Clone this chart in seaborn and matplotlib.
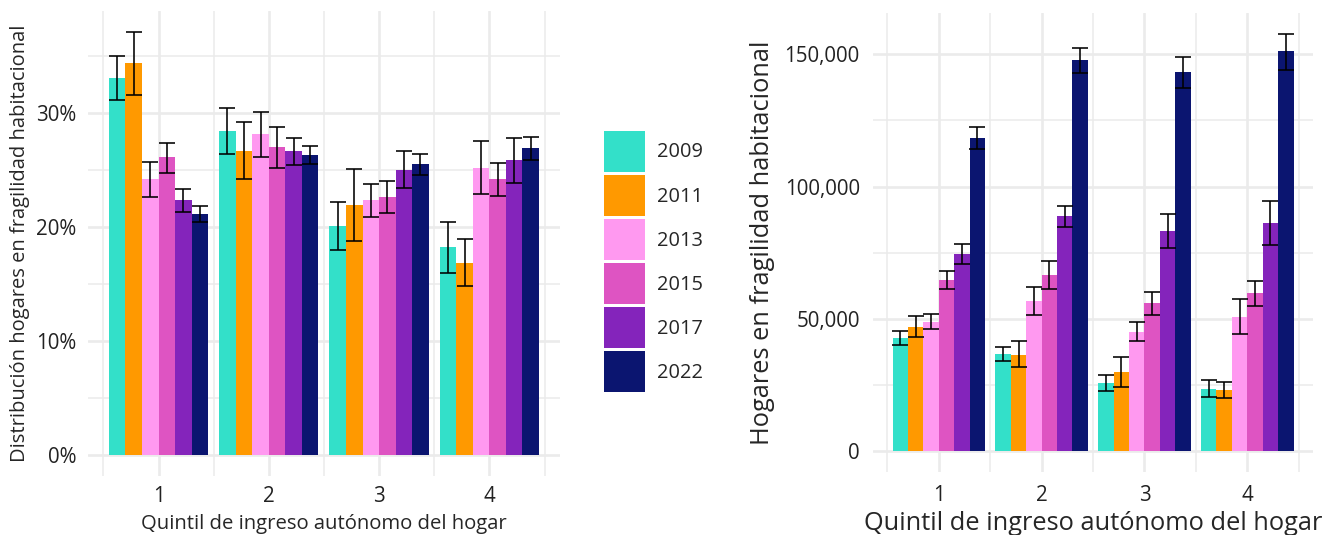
import numpy as np
import pandas as pd
import matplotlib
matplotlib.use("Agg")
import matplotlib.pyplot as plt
import seaborn as sns
from matplotlib.patches import Patch
from matplotlib.ticker import FuncFormatter

# categories
quintiles = ["1", "2", "3", "4"]
years = ["2009", "2011", "2013", "2015", "2017", "2022"]
colors = ["#33E0C9", "#FF9900", "#FF99F0", "#DE54C2", "#8424BB", "#0B1570"]

# left panel: share of households (%), one row per year, one value per quintile
pct_val = [[33.1, 28.4, 20.1, 18.2],
           [34.4, 26.7, 21.9, 16.8],
           [24.2, 28.2, 22.4, 25.2],
           [26.1, 27.0, 22.6, 24.2],
           [22.4, 26.7, 25.0, 25.9],
           [21.1, 26.3, 25.5, 26.9]]
pct_lo = [[31.1, 26.4, 18.0, 16.0],
          [31.6, 24.2, 18.8, 14.8],
          [22.6, 26.1, 20.9, 22.9],
          [24.7, 25.2, 21.2, 22.7],
          [21.3, 25.4, 23.4, 23.9],
          [20.4, 25.5, 24.6, 25.9]]
pct_hi = [[35.0, 30.4, 22.2, 20.4],
          [37.1, 29.2, 25.1, 18.9],
          [25.7, 30.1, 23.8, 27.5],
          [27.4, 28.8, 24.0, 25.6],
          [23.3, 27.8, 26.7, 27.8],
          [21.8, 27.1, 26.4, 27.9]]

# right panel: number of households
n_val = [[42700, 36700, 25800, 23600],
         [47000, 36400, 30000, 23200],
         [48900, 56800, 45100, 50700],
         [64600, 66600, 56000, 59700],
         [74500, 88800, 83200, 86100],
         [118300, 147700, 143200, 151200]]
n_lo = [[40200, 34100, 22800, 20500],
        [43100, 31700, 24300, 20100],
        [46100, 51500, 41800, 44300],
        [61200, 61400, 51500, 55000],
        [70800, 84800, 76700, 77900],
        [114300, 142800, 137100, 144200]]
n_hi = [[45300, 39400, 28800, 26700],
        [50900, 41500, 35700, 26000],
        [51800, 62200, 48700, 57400],
        [67900, 71800, 60100, 64400],
        [78200, 92700, 89700, 94500],
        [122400, 152300, 149000, 157700]]


def to_long(val, lo, hi):
    rows = []
    for i, y in enumerate(years):
        for j, q in enumerate(quintiles):
            rows.append({"quintil": q, "anio": y, "valor": val[i][j],
                         "lo": lo[i][j], "hi": hi[i][j]})
    return pd.DataFrame(rows)


def bars_with_errors(ax, df):
    sns.barplot(data=df, x="quintil", y="valor", hue="anio", order=quintiles,
                hue_order=years, palette=colors, width=0.9, gap=0,
                saturation=1, errorbar=None, linewidth=0, legend=False,
                ax=ax, zorder=2)
    for cont, y in zip(ax.containers, years):
        sub = df[df.anio == y].set_index("quintil").loc[quintiles]
        xs = [b.get_x() + b.get_width() / 2 for b in cont]
        v = sub.valor.values
        ax.errorbar(xs, v, yerr=[v - sub.lo.values, sub.hi.values - v], fmt="none",
                    ecolor="black", elinewidth=1.15, capsize=6, capthick=1.15, zorder=3)
    top = df.hi.max()
    ax.set_ylim(-0.05 * top, top * 1.05)
    ax.set_xlim(-0.64, len(quintiles) - 1 + 0.64)
    ax.set_xticks(list(np.arange(-0.5, len(quintiles), 1.0)), minor=True)
    ax.set_axisbelow(True)
    ax.grid(which="major", color="#EBEBEB", linewidth=1.9)
    ax.grid(which="minor", color="#EBEBEB", linewidth=1.1)
    ax.tick_params(which="both", length=0, labelsize=14.8, labelcolor="#222222")
    for s in ax.spines.values():
        s.set_visible(False)


sns.set_theme(style="white")
plt.rcParams["font.family"] = ["Open Sans", "DejaVu Sans"]

fig = plt.figure(figsize=(13.25, 5.35), dpi=100)
ax1 = fig.add_axes([0.0664, 0.1103, 0.3562, 0.8692])
ax2 = fig.add_axes([0.6589, 0.1178, 0.3321, 0.8579])

# left: distribution
df1 = to_long(pct_val, pct_lo, pct_hi)
bars_with_errors(ax1, df1)
ax1.set_yticks([0, 10, 20, 30])
ax1.set_yticks([5, 15, 25, 35], minor=True)
ax1.yaxis.set_major_formatter(FuncFormatter(lambda v, p: f"{v:.0f}%"))
ax1.tick_params(axis="y", pad=8.5)
ax1.tick_params(axis="x", pad=7.5)
ax1.set_xlabel("Quintil de ingreso autónomo del hogar", fontsize=14.6, labelpad=4.5)
ax1.set_ylabel("Distribución hogares en fragilidad habitacional", fontsize=14.5, labelpad=4)

# right: counts
df2 = to_long(n_val, n_lo, n_hi)
bars_with_errors(ax2, df2)
ax2.set_yticks([0, 50000, 100000, 150000])
ax2.set_yticks([25000, 75000, 125000], minor=True)
ax2.yaxis.set_major_formatter(FuncFormatter(lambda v, p: f"{v:,.0f}"))
ax2.tick_params(axis="y", pad=9.5)
ax2.tick_params(axis="x", pad=9.5)
ax2.set_xlabel("Quintil de ingreso autónomo del hogar", fontsize=18.3, labelpad=3.5)
ax2.set_ylabel("Hogares en fragilidad habitacional", fontsize=18.3, labelpad=7)

handles = [Patch(facecolor=c, edgecolor="none") for c in colors]
fig.legend(handles, years, loc="upper left", bbox_to_anchor=(604 / 1325, 1 - 131 / 535),
           frameon=False, fontsize=14.4, borderpad=0, borderaxespad=0,
           handlelength=2.05, handleheight=2.78, labelspacing=0.15, handletextpad=0.6)

fig.savefig("out.png", dpi=100)
